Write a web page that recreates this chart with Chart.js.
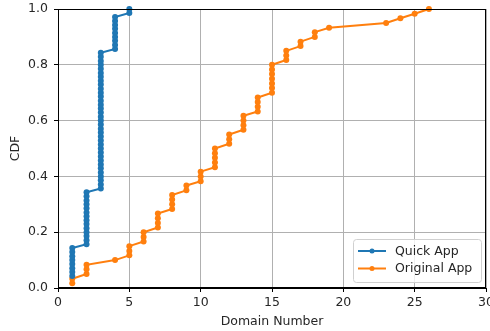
<!DOCTYPE html>
<html>
<head>
<meta charset="utf-8">
<script src="https://cdn.jsdelivr.net/npm/chart.js@4/dist/chart.umd.min.js"></script>
<style>
  body { margin: 0; background: #fff; }
  #wrap { width: 490px; height: 331px; }
</style>
</head>
<body>
<div id="wrap"><canvas id="cdfChart" width="490" height="331"></canvas></div>
<script>
// --- DATA ---
const xTicks = [0, 5, 10, 15, 20, 25, 30];
const yTicks = [0, 0.2, 0.4, 0.6, 0.8, 1.0];

// Quick App: domain number of each sample and its CDF value
const quickDomains = [
  1, 1, 1, 1, 1, 1, 1, 1,
  2, 2, 2, 2, 2, 2, 2, 2, 2, 2, 2, 2, 2, 2,
  3, 3, 3, 3, 3, 3, 3, 3, 3, 3, 3, 3, 3, 3, 3, 3, 3, 3, 3, 3, 3, 3, 3, 3, 3, 3, 3, 3, 3, 3, 3, 3, 3, 3, 3,
  4, 4, 4, 4, 4, 4, 4, 4, 4,
  5, 5
];
const quickCdf = [
  0.043, 0.057, 0.071, 0.086, 0.100, 0.114, 0.129, 0.143,
  0.157, 0.171, 0.186, 0.200, 0.214, 0.229, 0.243, 0.257, 0.271, 0.286, 0.300, 0.314, 0.329, 0.343,
  0.357, 0.371, 0.386, 0.400, 0.414, 0.429, 0.443, 0.457, 0.471, 0.486, 0.500, 0.514, 0.529, 0.543, 0.557,
  0.571, 0.586, 0.600, 0.614, 0.629, 0.643, 0.657, 0.671, 0.686, 0.700, 0.714, 0.729, 0.743, 0.757, 0.771,
  0.786, 0.800, 0.814, 0.829, 0.843,
  0.857, 0.871, 0.886, 0.900, 0.914, 0.929, 0.943, 0.957, 0.971,
  0.986, 1.000
];

// Original App
const originalDomains = [
  1, 1,
  2, 2, 2,
  4,
  5, 5, 5,
  6, 6, 6,
  7, 7, 7, 7,
  8, 8, 8, 8,
  9, 9,
  10, 10, 10,
  11, 11, 11, 11, 11,
  12, 12, 12,
  13, 13, 13, 13,
  14, 14, 14, 14,
  15, 15, 15, 15, 15, 15, 15,
  16, 16, 16,
  17, 17,
  18, 18,
  19,
  23,
  24,
  25,
  26
];
const originalCdf = [
  0.017, 0.033,
  0.050, 0.067, 0.083,
  0.100,
  0.117, 0.133, 0.150,
  0.167, 0.183, 0.200,
  0.217, 0.233, 0.250, 0.267,
  0.283, 0.300, 0.317, 0.333,
  0.350, 0.367,
  0.383, 0.400, 0.417,
  0.433, 0.450, 0.467, 0.483, 0.500,
  0.517, 0.533, 0.550,
  0.567, 0.583, 0.600, 0.617,
  0.633, 0.650, 0.667, 0.683,
  0.700, 0.717, 0.733, 0.750, 0.767, 0.783, 0.800,
  0.817, 0.833, 0.850,
  0.867, 0.883,
  0.900, 0.917,
  0.933,
  0.950,
  0.967,
  0.983,
  1.000
];

const seriesNames = ['Quick App', 'Original App'];
const seriesColors = ['#1f77b4', '#ff7f0e'];

const FONT = "'DejaVu Sans', sans-serif";
const FSIZE = 12.5;
const TEXT = '#262626';

function toPoints(xs, ys) {
  return xs.map((x, i) => ({ x: x, y: ys[i] }));
}

// ramecek kolem grafu (horni a prava osa)
const framePlugin = {
  id: 'frame',
  afterDatasetsDraw(chart) {
    const a = chart.chartArea;
    const ctx = chart.ctx;
    ctx.save();
    ctx.strokeStyle = '#000';
    ctx.lineWidth = 1;
    ctx.strokeRect(a.left + 0.5, a.top + 0.5, a.right - a.left - 1, a.bottom - a.top - 1);
    ctx.restore();
  }
};

// legenda uvnitr grafu vpravo dole
const legendPlugin = {
  id: 'innerLegend',
  afterDraw(chart) {
    const ctx = chart.ctx;
    const x = 353, y = 239, w = 128, h = 43;
    ctx.save();
    ctx.beginPath();
    ctx.roundRect(x + 0.5, y + 0.5, w, h, 3);
    ctx.fillStyle = 'rgba(255,255,255,0.8)';
    ctx.fill();
    ctx.strokeStyle = '#d0d0d0';
    ctx.lineWidth = 1;
    ctx.stroke();
    ctx.font = FSIZE + 'px ' + FONT;
    ctx.textBaseline = 'middle';
    seriesNames.forEach((name, i) => {
      const ly = y + 12 + i * 17.5;
      ctx.strokeStyle = seriesColors[i];
      ctx.lineWidth = 2;
      ctx.beginPath();
      ctx.moveTo(x + 5, ly);
      ctx.lineTo(x + 33, ly);
      ctx.stroke();
      ctx.fillStyle = seriesColors[i];
      ctx.beginPath();
      ctx.arc(x + 19, ly, 2.5, 0, Math.PI * 2);
      ctx.fill();
      ctx.fillStyle = TEXT;
      ctx.fillText(name, x + 42, ly + 0.5);
    });
    ctx.restore();
  }
};

new Chart(document.getElementById('cdfChart'), {
  type: 'scatter',
  data: {
    datasets: [
      {
        label: seriesNames[0],
        data: toPoints(quickDomains, quickCdf),
        showLine: true,
        borderColor: seriesColors[0],
        backgroundColor: seriesColors[0],
        borderWidth: 2,
        pointRadius: 3,
        pointBorderWidth: 0,
        pointBackgroundColor: seriesColors[0],
        clip: 3
      },
      {
        label: seriesNames[1],
        data: toPoints(originalDomains, originalCdf),
        showLine: true,
        borderColor: seriesColors[1],
        backgroundColor: seriesColors[1],
        borderWidth: 2,
        pointRadius: 3,
        pointBorderWidth: 0,
        pointBackgroundColor: seriesColors[1],
        clip: 3
      }
    ]
  },
  options: {
    responsive: false,
    animation: false,
    devicePixelRatio: 1,
    layout: { padding: { left: 0, top: 9, right: 4, bottom: 0 } },
    plugins: {
      legend: { display: false },
      tooltip: { enabled: false }
    },
    scales: {
      x: {
        type: 'linear',
        min: 0,
        max: 30,
        afterBuildTicks: s => { s.ticks = xTicks.map(v => ({ value: v })); },
        afterFit: s => { s.height = 43; s.paddingLeft = 0; s.paddingRight = 0; },
        grid: { color: '#b0b0b0', lineWidth: 1, tickLength: 4, tickColor: '#000' },
        border: { color: '#000', width: 1 },
        ticks: {
          color: TEXT,
          font: { family: FONT, size: FSIZE },
          padding: 3,
          maxRotation: 0,
          callback: v => String(v)
        },
        title: {
          display: true,
          text: 'Domain Number',
          color: TEXT,
          font: { family: FONT, size: FSIZE },
          padding: { top: 0, bottom: 2 }
        }
      },
      y: {
        type: 'linear',
        min: 0,
        max: 1,
        afterBuildTicks: s => { s.ticks = yTicks.map(v => ({ value: v })); },
        afterFit: s => { s.width = 58; s.paddingTop = 0; s.paddingBottom = 0; },
        grid: { color: '#b0b0b0', lineWidth: 1, tickLength: 4, tickColor: '#000' },
        border: { color: '#000', width: 1 },
        ticks: {
          color: TEXT,
          font: { family: FONT, size: FSIZE },
          padding: 6,
          callback: v => v.toFixed(1)
        },
        title: {
          display: true,
          text: 'CDF',
          color: TEXT,
          font: { family: FONT, size: FSIZE },
          padding: { top: 8, bottom: 0 }
        }
      }
    }
  },
  plugins: [framePlugin, legendPlugin]
});
</script>
</body>
</html>
